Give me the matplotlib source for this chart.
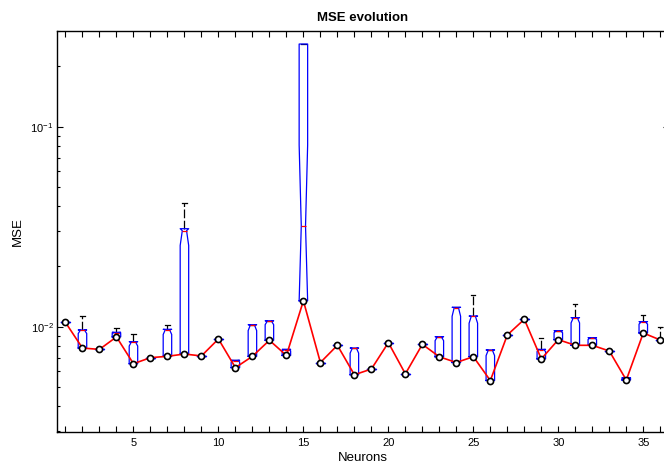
import numpy as np
import matplotlib.pyplot as plt
from matplotlib.ticker import FixedLocator, FuncFormatter, LogLocator, NullFormatter

plt.rcParams['font.family'] = ['Liberation Sans', 'DejaVu Sans']

# neurons in the hidden layer
neurons = list(range(1, 37))

# best (lowest) MSE over the runs -> bottom of each box
best = [0.0105, 0.00782, 0.0077, 0.00889, 0.00653, 0.00700, 0.00711, 0.00730,
        0.00714, 0.00868, 0.00624, 0.00711, 0.00855, 0.00718, 0.01347, 0.00662,
        0.00807, 0.00575, 0.00614, 0.00832, 0.00581, 0.00816, 0.00707, 0.00662,
        0.00708, 0.00538, 0.00909, 0.01089, 0.00690, 0.00861, 0.00807, 0.00807,
        0.00756, 0.00541, 0.00930, 0.00858]

# upper quartile of the runs
upper_q = [0.0105, 0.00963, 0.0077, 0.00937, 0.00841, 0.00700, 0.00970, 0.0309,
           0.00714, 0.00868, 0.00679, 0.01023, 0.0107, 0.00770, 0.259, 0.00662,
           0.00807, 0.00782, 0.00614, 0.00832, 0.00581, 0.00816, 0.00891, 0.0125,
           0.0113, 0.00765, 0.00909, 0.01089, 0.00770, 0.00955, 0.0111, 0.00881,
           0.00756, 0.00556, 0.0106, 0.00858]

# median of the runs
median = [0.0105, 0.00960, 0.0077, 0.00935, 0.00838, 0.00700, 0.00966, 0.0302,
          0.00714, 0.00868, 0.00677, 0.01018, 0.01066, 0.00768, 0.0319, 0.00662,
          0.00807, 0.00779, 0.00614, 0.00832, 0.00581, 0.00816, 0.00888, 0.01245,
          0.01125, 0.00762, 0.00909, 0.01089, 0.00768, 0.00952, 0.01105, 0.00878,
          0.00756, 0.00555, 0.01056, 0.00858]

# upper whisker end
whisk_hi = [0.0105, 0.0113, 0.0077, 0.0099, 0.00918, 0.00700, 0.01023, 0.0414,
            0.00714, 0.00868, 0.00679, 0.01023, 0.0107, 0.00770, 0.259, 0.00662,
            0.00807, 0.00782, 0.00614, 0.00832, 0.00581, 0.00816, 0.00891, 0.0125,
            0.0144, 0.00765, 0.00909, 0.01089, 0.00875, 0.00955, 0.0130, 0.00881,
            0.00756, 0.00556, 0.0114, 0.0100]

notch_k = 0.2

stats = []
for lo, q3, med, hi in zip(best, upper_q, median, whisk_hi):
    half = notch_k * (q3 - lo)
    stats.append(dict(med=med, q1=lo, q3=q3, whislo=lo, whishi=hi,
                      cilo=max(lo, med - half), cihi=min(q3, med + half),
                      fliers=[]))

fig = plt.figure(figsize=(6.64, 4.66), dpi=100)
ax = fig.add_axes([0.0858, 0.073, 0.9214, 0.8605])

ax.bxp(stats, positions=neurons, widths=0.5, shownotches=True, showfliers=False,
       boxprops=dict(color='blue', linewidth=0.9, zorder=2),
       medianprops=dict(color='red', linewidth=0.9, zorder=2.1),
       whiskerprops=dict(color='black', linewidth=0.9, linestyle=(0, (7, 2)), zorder=1.8),
       capprops=dict(color='black', linewidth=0.9, zorder=1.9))

ax.plot(neurons, best, '-', color='red', linewidth=1.2, zorder=3)
ax.plot(neurons, best, 'o', markerfacecolor='white', markeredgecolor='black',
        markersize=4.4, markeredgewidth=1.2, linestyle='none', zorder=4)

ax.set_yscale('log')
ax.set_ylim(10 ** -2.5265, 10 ** -0.5215)
ax.set_xlim(0.5, 36.5)

ax.xaxis.set_major_locator(FixedLocator(neurons))
ax.xaxis.set_major_formatter(FuncFormatter(lambda v, p: '%d' % v if int(round(v)) % 5 == 0 else ''))
ax.yaxis.set_major_locator(LogLocator(base=10))
ax.yaxis.set_minor_locator(LogLocator(base=10, subs=np.arange(2, 10)))
ax.yaxis.set_minor_formatter(NullFormatter())

ax.tick_params(which='both', direction='in', top=True, right=True, width=0.8,
               labelsize=8)
ax.tick_params(axis='x', pad=4)
ax.tick_params(axis='y', pad=2.5)
ax.tick_params(which='major', length=4.5)
ax.tick_params(which='minor', length=2.2)
for sp in ax.spines.values():
    sp.set_linewidth(1.0)

ax.set_title('MSE evolution', fontsize=9.5, fontweight='bold', pad=7)
ax.set_xlabel('Neurons', fontsize=9.5, labelpad=3)
ax.set_ylabel('MSE', fontsize=9.5, labelpad=5)

fig.savefig('out.png', dpi=100)
